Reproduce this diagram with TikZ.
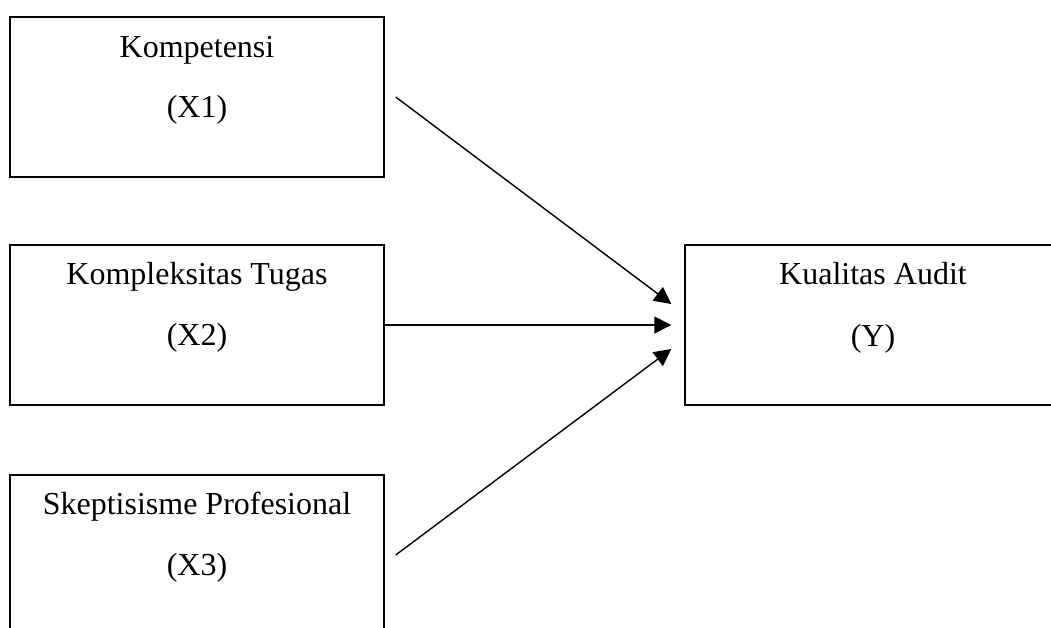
\documentclass[tikz,border=0pt]{standalone}
\usepackage{fontspec}
\setmainfont{Liberation Serif}
\usetikzlibrary{arrows.meta,calc}
\tikzset{
  box/.style={draw=black, line width=1.4pt, minimum width=374pt, minimum height=160pt, inner sep=0pt},
  lbl/.style={anchor=base, inner sep=0pt, font=\fontsize{32}{38}\selectfont},
  arr/.style={line width=1.4pt, -{Triangle[length=17pt,width=17pt]}}
}
\begin{document}
\begin{tikzpicture}[x=1pt,y=-1pt]
\clip (0,0) rectangle (1051,628);
\fill[white] (0,0) rectangle (1051,628);
% boxes
\node[box] (X1) at (197,97) {};
\node[box] (X2) at (197,325) {};
\node[box] (X3) at (197,555) {};
\node[box, minimum width=376pt] (Y) at (873,325) {};
% texts
\node[lbl] (t1a) at ($(X1.north)+(0,41)$) {Kompetensi};
\node[lbl] (t1b) at ($(X1.north)+(0,101)$) {(X1)};
\node[lbl] (t2a) at ($(X2.north)+(0,40)$) {Kompleksitas Tugas};
\node[lbl] (t2b) at ($(X2.north)+(0,101)$) {(X2)};
\node[lbl] (t3a) at ($(X3.north)+(0,40)$) {Skeptisisme Profesional};
\node[lbl] (t3b) at ($(X3.north)+(0,101)$) {(X3)};
\node[lbl] (tya) at ($(Y.north)+(0,40)$) {Kualitas Audit};
\node[lbl] (tyb) at ($(Y.north)+(0,102)$) {(Y)};
% arrows
\draw[arr] ($(X1.east)+(11,0)$) -- ($(Y.west)+(-13,-21)$);
\draw[arr] (X2.east) -- ($(Y.west)+(-13,0)$);
\draw[arr] ($(X3.east)+(11,0)$) -- ($(Y.west)+(-13,24)$);
\end{tikzpicture}
\end{document}
